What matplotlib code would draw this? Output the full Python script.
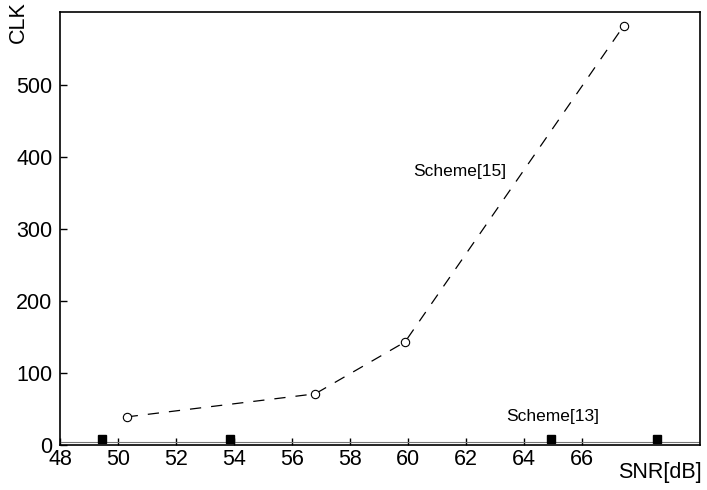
import matplotlib.pyplot as plt

# SNR (dB) vs. clock cycles for the two schemes
snr_15 = [50.3, 56.8, 59.9, 67.45]
clk_15 = [39, 71, 143, 582]

snr_13 = [49.45, 53.85, 64.95, 68.6]
clk_13 = [8, 8, 8, 8]

xticks = [48, 50, 52, 54, 56, 58, 60, 62, 64, 66]
yticks = [0, 100, 200, 300, 400, 500]

plt.rcParams['font.family'] = ['Liberation Sans', 'DejaVu Sans']

fig = plt.figure(figsize=(7.07, 4.90), dpi=100)
ax = fig.add_axes([0.0849, 0.0918, 0.905, 0.884])

# Scheme[15]: dashed line with open circles
ax.plot(snr_15, clk_15, color='black', lw=0.9, ls=(0, (9, 8)),
        marker='o', ms=6, mfc='white', mec='black', mew=0.8)

# Scheme[13]: thin grey line near zero, filled squares on it
ax.axhline(4, color='#777777', lw=0.8, zorder=2)
ax.plot(snr_13, clk_13, ls='none', marker='s', ms=5.5,
        mfc='black', mec='black', zorder=3, clip_on=False)

ax.text(61.8, 380, 'Scheme[15]', fontsize=12.5, ha='center', va='center')
ax.text(65.0, 39, 'Scheme[13]', fontsize=12.5, ha='center', va='center')

ax.set_xlim(48, 70.07)
ax.set_ylim(0, 601)
ax.set_xticks(xticks)
ax.set_yticks(yticks)
ax.tick_params(direction='in', length=5, width=1, labelsize=15.5)
ax.tick_params(axis='y', pad=5.5)
ax.tick_params(axis='x', pad=3)
for s in ax.spines.values():
    s.set_linewidth(1.2)

fig.text(18 / 707, 1 - 22 / 490, 'CLK', rotation=90, fontsize=15.5,
         ha='center', va='center')
fig.text(660 / 707, 1 - 472 / 490, 'SNR[dB]', fontsize=15.5,
         ha='center', va='center')

fig.savefig('out.png', dpi=100)
